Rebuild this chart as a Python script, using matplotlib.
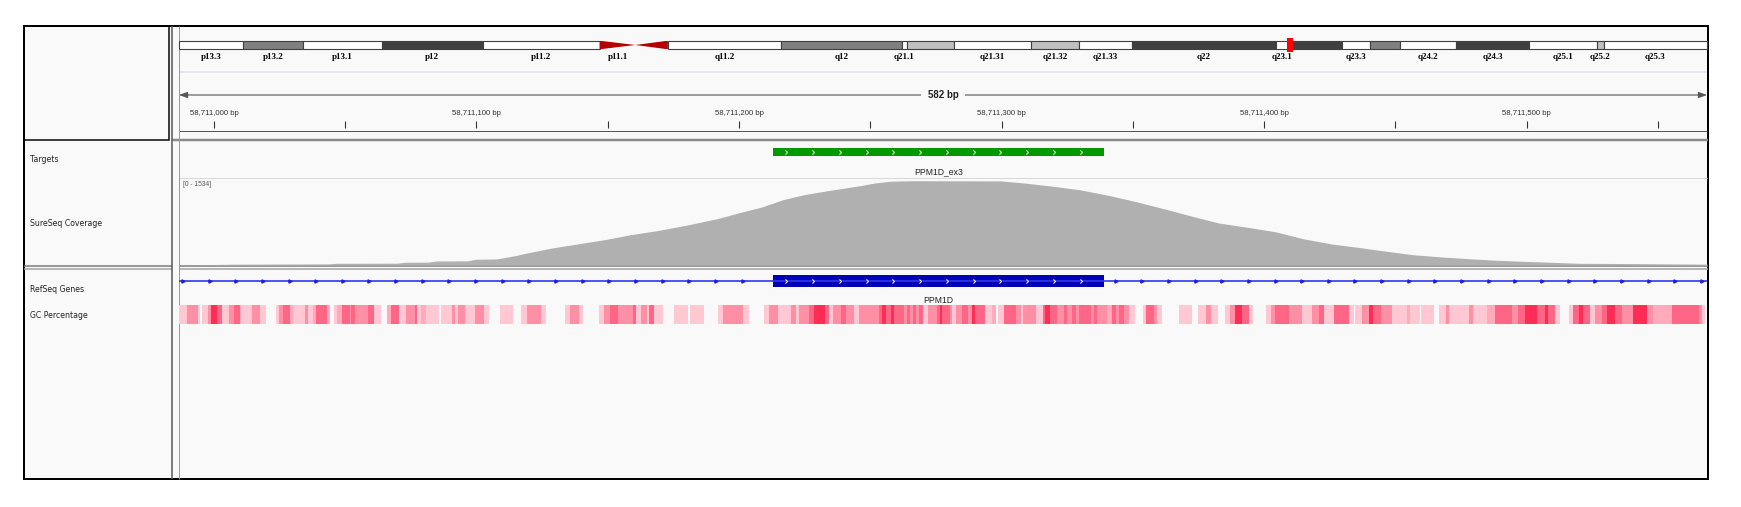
import numpy as np
import matplotlib
matplotlib.use("Agg")
import matplotlib.pyplot as plt
from matplotlib.patches import Rectangle, Polygon
from matplotlib.path import Path

# ---- locus shown (hg19, chr17) ----
view_start = 58710986.7
view_bp = 582
ruler_ticks = [58711000, 58711050, 58711100, 58711150, 58711200, 58711250,
               58711300, 58711350, 58711400, 58711450, 58711500, 58711550]

# ---- chr17 ideogram (Mb) ----
chrom_len = 81.2
band_names = ['p13.3', 'p13.2', 'p13.1', 'p12', 'p11.2', 'p11.1', 'q11.1', 'q11.2',
              'q12', 'q21.1', 'q21.2', 'q21.31', 'q21.32', 'q21.33', 'q22', 'q23.1',
              'q23.2', 'q23.3', 'q24.1', 'q24.2', 'q24.3', 'q25.1', 'q25.2', 'q25.3']
band_start = [0, 3.38, 6.58, 10.78, 16.14, 22.35, 24.25, 25.98,
              32.0, 38.4, 38.68, 41.2, 45.27, 47.85, 50.64, 58.27,
              58.93, 61.78, 63.28, 64.91, 67.85, 71.76, 75.34, 75.72]
band_stain = ['gneg', 'gpos50', 'gneg', 'gpos75', 'gneg', 'acen', 'acen', 'gneg',
              'gpos50', 'gneg', 'gpos25', 'gneg', 'gpos25', 'gneg', 'gpos75', 'gneg',
              'gpos75', 'gneg', 'gpos50', 'gneg', 'gpos75', 'gneg', 'gpos25', 'gneg']
hidden_labels = ['q11.1', 'q21.2', 'q23.2', 'q24.1']
ideo_marker = 59.05

# ---- tracks ----
track_names = ['Targets', 'SureSeq Coverage', 'RefSeq Genes', 'GC Percentage']
target_name = 'PPM1D_ex3'
target_start, target_end = 58711213, 58711339
gene_name = 'PPM1D'
exon_start, exon_end = 58711213, 58711339

cov_max = 1534
# offset from view_start (bp), read depth
cov_pos = [0, 21, 57, 60, 83, 86, 95, 98, 110, 113, 121, 128, 132, 142, 154,
           162, 172, 182, 193, 205, 213, 222, 230, 238, 247, 259, 265, 271, 280,
           313, 322, 333, 343, 354, 365, 375, 386, 396, 407, 418, 428, 439, 449,
           460, 470, 481, 491, 502, 512, 523, 533, 555, 582]
cov_val = [0, 15, 20, 31, 33, 49, 52, 73, 76, 104, 110, 169, 213, 309, 400,
           460, 551, 624, 722, 843, 946, 1056, 1188, 1279, 1352, 1440, 1492, 1525, 1534,
           1530, 1492, 1432, 1370, 1268, 1147, 1025, 886, 764, 686, 601, 479, 382, 322,
           249, 187, 146, 115, 86, 67, 49, 31, 25, 15]

# GC percentage heat strip: run start (bp offset) and shade level (0 = none)
gc_start = [0, 2.9, 7.4, 8.1, 8.9, 11.2, 12.2, 14.3, 16.2, 19.0,
            20.8, 23.2, 23.8, 27.9, 30.8, 33.0, 36.8, 38.1, 39.7, 42.2,
            43.5, 47.9, 49.2, 51.0, 52.0, 56.2, 57.6, 59.1, 60.1, 61.9,
            65.1, 65.7, 67.0, 72.0, 74.3, 77.1, 79.1, 80.7, 83.7, 86.6,
            89.8, 90.8, 92.3, 94.2, 98.9, 99.9, 104.0, 105.0, 106.3, 108.8,
            112.9, 116.2, 118.0, 122.1, 127.2, 130.1, 132.7, 138.0, 139.9, 146.9,
            148.9, 152.2, 153.9, 159.8, 161.8, 164.0, 167.2, 173.0, 174.0, 175.8,
            178.3, 179.2, 181.1, 184.3, 188.7, 193.8, 194.6, 200.1, 205.2, 207.1,
            215.0, 217.0, 223.0, 224.9, 228.1, 233.1, 235.0, 236.3, 240.1, 242.0,
            246.2, 247.7, 249.0, 252.2, 254.1, 257.2, 259.1, 266.7, 267.8, 269.3,
            271.2, 272.4, 276.3, 277.1, 278.4, 279.4, 280.7, 282.0, 283.2, 285.1,
            288.9, 289.8, 290.8, 293.6, 294.6, 295.9, 298.2, 300.7, 302.0, 303.0,
            307.1, 309.6, 311.1, 312.1, 314.3, 318.7, 320.6, 321.3, 326.4, 328.9,
            329.9, 331.7, 334.6, 337.1, 338.4, 340.3, 341.6, 342.8, 347.3, 348.5,
            349.8, 353.6, 355.5, 356.8, 358.1, 360.0, 361.9, 364.1, 367.0, 368.2,
            371.4, 372.6, 374.6, 380.9, 386.0, 388.3, 391.0, 393.0, 395.9, 398.6,
            400.2, 402.2, 405.0, 407.5, 409.0, 413.9, 415.8, 417.4, 422.7, 427.8,
            431.6, 434.4, 436.1, 439.9, 445.6, 447.5, 448.1, 450.7, 453.4, 454.7,
            458.0, 462.1, 467.8, 469.0, 472.8, 473.2, 477.9, 479.8, 482.4, 483.9,
            491.5, 492.8, 498.2, 501.4, 507.7, 510.0, 512.8, 517.2, 520.4, 521.4,
            524.2, 526.1, 529.3, 530.8, 533.1, 534.6, 537.5, 539.4, 541.9, 543.9,
            547.0, 549.6, 554.0, 559.1, 561.6, 568.6, 578.8, 580.0]
gc_level = [1, 3, 1, 0, 1, 3, 5, 4, 1, 3,
            4, 2, 1, 3, 1, 0, 1, 3, 4, 2,
            1, 3, 1, 2, 4, 2, 0, 1, 2, 4,
            3, 4, 3, 4, 1, 0, 2, 4, 1, 3,
            4, 1, 2, 1, 0, 1, 3, 1, 3, 1,
            3, 1, 0, 1, 0, 1, 3, 1, 0, 1,
            3, 1, 0, 1, 3, 4, 3, 4, 1, 3,
            1, 4, 1, 0, 1, 0, 1, 0, 1, 3,
            1, 0, 1, 3, 1, 3, 1, 3, 4, 5,
            4, 1, 3, 4, 3, 1, 3, 4, 5, 4,
            5, 4, 3, 4, 3, 4, 3, 4, 1, 3,
            4, 5, 4, 3, 1, 3, 4, 3, 5, 4,
            1, 2, 0, 1, 4, 3, 1, 3, 1, 4,
            5, 4, 3, 4, 3, 4, 3, 4, 3, 4,
            3, 2, 4, 3, 4, 3, 1, 0, 1, 4,
            3, 1, 0, 1, 0, 1, 3, 1, 0, 1,
            3, 5, 4, 1, 0, 1, 3, 4, 3, 1,
            3, 4, 1, 4, 1, 0, 1, 3, 5, 4,
            3, 1, 2, 1, 0, 1, 0, 1, 3, 1,
            3, 1, 2, 4, 3, 4, 5, 4, 5, 4,
            1, 0, 1, 4, 5, 4, 1, 3, 4, 5,
            4, 3, 5, 3, 2, 4, 3, 1]

stain_color = {'gneg': 'white', 'gpos25': '#c0c0c0', 'gpos50': '#808080',
               'gpos75': '#404040'}
gc_color = {1: '#ffc8d3', 2: '#ffabbb', 3: '#ff8fa4', 4: '#ff6584', 5: '#ff2c55'}

W, H = 1741, 507
PX = 0.72  # points per pixel at dpi 100
BG = '#f9f9f9'
fig = plt.figure(figsize=(W / 100, H / 100), dpi=100)


def box(x0, y0, x1, y1):
    return [x0 / W, 1 - y1 / H, (x1 - x0) / W, (y1 - y0) / H]


view_end = view_start + view_bp
mid = view_start + view_bp / 2
chev = Path([(-0.5, 1), (0.5, 0), (-0.5, -1)], [Path.MOVETO, Path.LINETO, Path.LINETO])

# frame and panel lines
bg = fig.add_axes([0, 0, 1, 1])
bg.set_xlim(0, W)
bg.set_ylim(H, 0)
bg.axis('off')
bg.add_patch(Rectangle((24, 25.5), 1684, 453.5, fc=BG, ec='none'))
bg.hlines(72, 179, 1707, color='#e0e0e8', lw=1.5 * PX)
bg.hlines(131, 179, 1707, color='#555555', lw=1 * PX)
bg.hlines(140, 172, 1708, color='#8a8a8a', lw=2.5 * PX)
bg.hlines(178, 179, 1707, color='#d8d8d8', lw=1 * PX)
for x0, x1 in [(24, 172), (179, 1708)]:
    bg.hlines(265.6, x0, x1, color='#7a7a7a', lw=1.5 * PX)
    bg.hlines(269, x0, x1, color='#a0a0a0', lw=1.5 * PX)
bg.vlines(172, 25.5, 479, color='#555555', lw=1.5 * PX)
bg.vlines(179, 25.5, 479, color='#9a9a9a', lw=1 * PX)
bg.add_patch(Rectangle((24, 25.5), 145, 114.5, fill=False, ec='black', lw=1.5 * PX))
bg.add_patch(Rectangle((24, 25.5), 1684, 453.5, fill=False, ec='black', lw=2 * PX))

for name, y in zip(track_names, [160, 223, 290, 316]):
    bg.text(30, y, name, fontsize=5.6, va='center', color='#222222')
bg.text(183, 184, f'[0 - {cov_max}]', fontsize=4.8, va='center', color='#555555',
        family='Liberation Sans')

# ideogram
ax_i = fig.add_axes(box(179, 40.7, 1707, 49.3))
ax_i.set_xlim(0, chrom_len)
ax_i.set_ylim(0, 1)
ax_i.axis('off')
band_end = band_start[1:] + [chrom_len]
for name, s, e, st in zip(band_names, band_start, band_end, band_stain):
    if st == 'acen':
        if name.startswith('p'):
            pts = [(s, 0), (s, 1), (e, 0.5)]
        else:
            pts = [(s, 0.5), (e, 1), (e, 0)]
        ax_i.add_patch(Polygon(pts, closed=True, fc='#b40000', ec='none'))
    else:
        ax_i.add_patch(Rectangle((s, 0), e - s, 1, fc=stain_color[st], ec='#404040',
                                 lw=0.8, clip_on=False))
    if name not in hidden_labels:
        ax_i.text((s + e) / 2, -0.86, name, ha='center', va='center', fontsize=6.5,
                  family='Liberation Serif', weight='bold', clip_on=False)
ax_i.add_patch(Rectangle((ideo_marker - 0.16, -0.35), 0.32, 1.65, fc='#ff0000',
                         ec='none', clip_on=False, zorder=5))

# ruler, features, gc
ax = fig.add_axes(box(179, 25, 1707, 479), facecolor='none')
ax.set_xlim(view_start, view_end)
ax.set_ylim(479, 25)
ax.axis('off')

ax.annotate('', xy=(view_start, 95), xytext=(view_end, 95),
            arrowprops=dict(arrowstyle='<|-|>,head_length=0.5,head_width=0.18',
                            color='#555555', lw=0.8, shrinkA=0, shrinkB=0,
                            mutation_scale=10))
ax.text(mid, 95, f'{view_bp} bp', ha='center', va='center', fontsize=7, weight='bold',
        family='Liberation Sans', color='#222222',
        bbox=dict(boxstyle='square,pad=0.7', fc=BG, ec='none'))
ax.vlines(ruler_ticks, 121.5, 128.5, color='#333333', lw=0.8)
for t in ruler_ticks:
    if t % 100 == 0:
        ax.text(t, 114, f'{t:,} bp', ha='center', va='center', fontsize=5.6,
                family='Liberation Sans', color='#333333')

# target
ax.add_patch(Rectangle((target_start, 148.5), target_end - target_start, 8,
                       fc='#009a00', ec='none'))
xs = np.arange(target_start + 5, target_end - 2, 10.2)
ax.plot(xs, np.full(len(xs), 152.5), ls='none', marker=chev, ms=3, mec='white',
        mfc='none', mew=0.7)
ax.text((target_start + target_end) / 2, 171.5, target_name, ha='center', va='center',
        fontsize=6.2, family='Liberation Sans', color='#222222')

# gene
ax.hlines(281, view_start, view_end, color='#3535ee', lw=1.2)
ax_x = np.arange(view_start + 1.5, view_end, 10.15)
ax_x = ax_x[(ax_x < exon_start - 2) | (ax_x > exon_end + 2)]
ax.plot(ax_x, np.full(len(ax_x), 281), ls='none', marker='>', ms=2.3, color='#2020dd')
ax.add_patch(Rectangle((exon_start, 274.7), exon_end - exon_start, 12.6,
                       fc='#0000b4', ec='none'))
xs = np.arange(exon_start + 5, exon_end - 2, 10.2)
ax.plot(xs, np.full(len(xs), 281), ls='none', marker=chev, ms=3, mec='white',
        mfc='none', mew=0.7)
ax.text((exon_start + exon_end) / 2, 301, gene_name, ha='center', va='center',
        fontsize=6.2, family='Liberation Sans', color='#222222')

# gc strip
gc_end = gc_start[1:] + [view_bp - 0.6]
for s, e, lv in zip(gc_start, gc_end, gc_level):
    if lv > 0:
        ax.add_patch(Rectangle((view_start + s, 305), e - s, 19, fc=gc_color[lv], ec='none'))

# coverage
ax_c = fig.add_axes(box(179, 180.7, 1707, 265), facecolor='none')
ax_c.set_xlim(view_start, view_end)
ax_c.set_ylim(0, cov_max)
ax_c.axis('off')
ax_c.fill_between(view_start + np.array(cov_pos), cov_val, color='#b0b0b0', lw=0)

fig.savefig('out.png', dpi=100, facecolor='white')
